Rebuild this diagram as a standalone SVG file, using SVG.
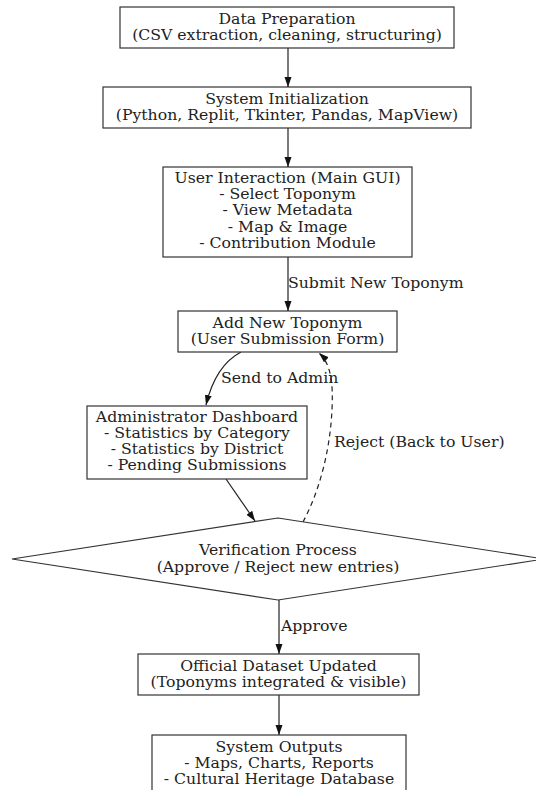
<svg xmlns="http://www.w3.org/2000/svg" width="536" height="790" viewBox="0 0 536 790">
<defs>
<style>
.n{fill:#fff;stroke:#333;stroke-width:1.2}
.t{font-family:"DejaVu Serif",serif;font-size:15.7px;fill:#222;text-anchor:middle}
.l{font-family:"DejaVu Serif",serif;font-size:15.7px;fill:#222}
.e{fill:none;stroke:#222;stroke-width:1.2}
.d{stroke-dasharray:5,4}
</style>
<marker id="a" viewBox="0 0 10 10" refX="10" refY="5" markerWidth="10" markerHeight="10" markerUnits="userSpaceOnUse" orient="auto">
<path d="M0,1.5 L10,5 L0,8.5 Z" fill="#111"/>
</marker>
</defs>
<rect width="536" height="790" fill="#fff"/>
<g id="connectors">
<path class="e" d="M288,48 L288,87" marker-end="url(#a)"/>
<path class="e" d="M288,128 L288,167" marker-end="url(#a)"/>
<path class="e" d="M288,257 L288,311" marker-end="url(#a)"/>
<path class="e" d="M241,352 C222,362 212,380 206,405" marker-end="url(#a)"/>
<path class="e" d="M226,479 L255,521" marker-end="url(#a)"/>
<path class="e d" d="M303,522 C320,490 330,450 332,410 C333,385 332,365 319,353" marker-end="url(#a)"/>
<path class="e" d="M279,600 L279,654" marker-end="url(#a)"/>
<path class="e" d="M279,695 L279,735" marker-end="url(#a)"/>
<text class="l" x="288" y="288">Submit New Toponym</text>
<text class="l" x="221" y="383">Send to Admin</text>
<text class="l" x="334" y="447">Reject (Back to User)</text>
<text class="l" x="281" y="631">Approve</text>
</g>
<g id="data-preparation">
<rect class="n" x="120" y="7" width="334" height="41"/>
<text class="t" x="287" y="24">Data Preparation</text>
<text class="t" x="287" y="40">(CSV extraction, cleaning, structuring)</text>
</g>
<g id="system-initialization">
<rect class="n" x="103" y="87" width="368" height="41"/>
<text class="t" x="287" y="104">System Initialization</text>
<text class="t" x="287" y="120">(Python, Replit, Tkinter, Pandas, MapView)</text>
</g>
<g id="user-interaction">
<rect class="n" x="163" y="167" width="249" height="90"/>
<text class="t" x="287.5" y="183">User Interaction (Main GUI)</text>
<text class="t" x="287.5" y="199">- Select Toponym</text>
<text class="t" x="287.5" y="215">- View Metadata</text>
<text class="t" x="287.5" y="232">- Map &amp; Image</text>
<text class="t" x="287.5" y="248">- Contribution Module</text>
</g>
<g id="add-new-toponym">
<rect class="n" x="178" y="311" width="219" height="41"/>
<text class="t" x="287.5" y="328">Add New Toponym</text>
<text class="t" x="287.5" y="344">(User Submission Form)</text>
</g>
<g id="administrator-dashboard">
<rect class="n" x="87" y="406" width="220" height="73"/>
<text class="t" x="197" y="422">Administrator Dashboard</text>
<text class="t" x="197" y="438">- Statistics by Category</text>
<text class="t" x="197" y="454">- Statistics by District</text>
<text class="t" x="197" y="470">- Pending Submissions</text>
</g>
<g id="verification-process">
<path class="n" d="M278,518 L544,559 L278,600 L12,559 Z"/>
<text class="t" x="278" y="555">Verification Process</text>
<text class="t" x="278" y="572">(Approve / Reject new entries)</text>
</g>
<g id="official-dataset-updated">
<rect class="n" x="138" y="654" width="281" height="41"/>
<text class="t" x="278.5" y="671">Official Dataset Updated</text>
<text class="t" x="278.5" y="687">(Toponyms integrated &amp; visible)</text>
</g>
<g id="system-outputs">
<rect class="n" x="152" y="735" width="254" height="70"/>
<text class="t" x="279" y="752">System Outputs</text>
<text class="t" x="279" y="768">- Maps, Charts, Reports</text>
<text class="t" x="279" y="784">- Cultural Heritage Database</text>
</g>
</svg>
